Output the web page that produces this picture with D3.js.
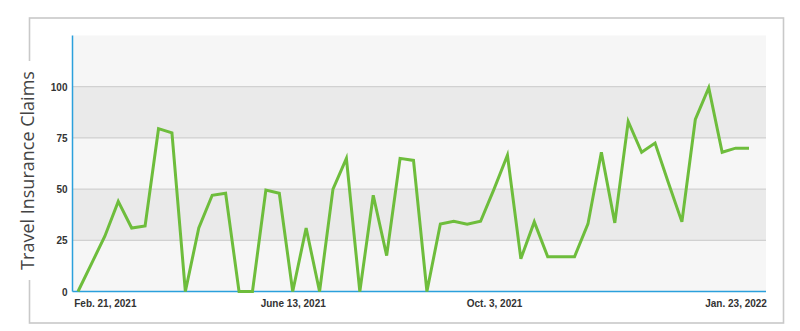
<!DOCTYPE html>
<html>
<head>
<meta charset="utf-8">
<script src="https://cdn.jsdelivr.net/npm/d3@7"></script>
<style>
  body { margin: 0; background: #fff; }
  svg { display: block; font-family: "Open Sans", sans-serif; }
  .tick text { fill: #333; font-size: 10px; font-weight: 600; }
</style>
</head>
<body>
<div id="chart"></div>
<script>
// weekly travel insurance claims
const claims = [0, 13.5, 27, 44, 31, 32, 79.5, 77.5, 0, 31, 47, 48, 0, 0, 49.5, 48, 0, 31, 0, 50,
  65, 0, 47, 17.5, 65, 64, 0, 33, 34.3, 32.8, 34.3, 50, 66.5, 16, 34, 17, 17, 17, 33, 68,
  33.5, 83, 68, 72.5, 53, 34, 84, 99.5, 68, 70, 70];
const xTickIndex = [2, 16, 31, 49];
const xTickLabels = ["Feb. 21, 2021", "June 13, 2021", "Oct. 3, 2021", "Jan. 23, 2022"];
const yTicks = [0, 25, 50, 75, 100];
const yMax = 125;
const yTitle = "Travel Insurance Claims";

const width = 800, height = 331;
const plot = { left: 72.5, top: 35.5, right: 766, bottom: 291.5 };

const svg = d3.select("#chart").append("svg")
  .attr("width", width)
  .attr("height", height);

// outer frame
svg.append("rect")
  .attr("x", 29.5).attr("y", 18)
  .attr("width", 754).attr("height", 305)
  .attr("fill", "none")
  .attr("stroke", "#c9c9c9")
  .attr("stroke-width", 1.6);

const x = d3.scaleLinear().domain([0, claims.length - 1]).range([78, 749]);
const y = d3.scaleLinear().domain([0, yMax]).range([plot.bottom, plot.top]);

// alternating bands
const bands = d3.range(0, yMax, 25);
svg.append("g").selectAll("rect")
  .data(bands)
  .enter().append("rect")
  .attr("x", plot.left)
  .attr("width", plot.right - plot.left)
  .attr("y", d => y(d + 25))
  .attr("height", d => y(d) - y(d + 25))
  .attr("fill", (d, i) => i % 2 ? "#eaeaea" : "#f6f6f6");

// grid lines
svg.append("g").selectAll("line")
  .data(yTicks.filter(d => d > 0))
  .enter().append("line")
  .attr("x1", plot.left).attr("x2", plot.right)
  .attr("y1", d => y(d)).attr("y2", d => y(d))
  .attr("stroke", "#c8c8c8")
  .attr("stroke-width", 1);

// y axis
const yAxis = svg.append("g")
  .attr("transform", "translate(" + plot.left + ",0)")
  .call(d3.axisLeft(y).tickValues(yTicks).tickSize(0).tickPadding(5));
yAxis.select(".domain").remove();
yAxis.selectAll(".tick text").attr("dy", "0.35em");

// x axis
const xAxis = svg.append("g")
  .attr("transform", "translate(0," + plot.bottom + ")")
  .call(d3.axisBottom(x).tickValues(xTickIndex).tickSize(0).tickPadding(8)
    .tickFormat((d, i) => xTickLabels[i]));
xAxis.select(".domain").remove();

// blue axis lines
svg.append("line")
  .attr("x1", plot.left).attr("x2", plot.left)
  .attr("y1", plot.top).attr("y2", plot.bottom)
  .attr("stroke", "#2ba0dc").attr("stroke-width", 1.5);
svg.append("line")
  .attr("x1", plot.left).attr("x2", plot.right)
  .attr("y1", plot.bottom).attr("y2", plot.bottom)
  .attr("stroke", "#2ba0dc").attr("stroke-width", 1.5);

// the line
const line = d3.line()
  .x((d, i) => x(i))
  .y(d => y(d));

svg.append("path")
  .datum(claims)
  .attr("fill", "none")
  .attr("stroke", "#6ebd3c")
  .attr("stroke-width", 3)
  .attr("stroke-linejoin", "miter")
  .attr("d", line);

// y title sitting on the frame
const titleY = 170.5;
svg.append("rect")
  .attr("x", 20).attr("y", titleY - 109.5)
  .attr("width", 19).attr("height", 219)
  .attr("fill", "#fff");
svg.append("text")
  .attr("transform", "translate(34," + titleY + ") rotate(-90)")
  .attr("text-anchor", "middle")
  .attr("fill", "#444")
  .attr("font-size", 18)
  .text(yTitle);
</script>
</body>
</html>
